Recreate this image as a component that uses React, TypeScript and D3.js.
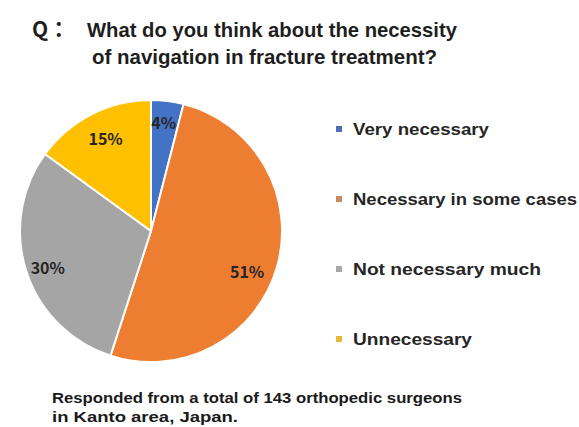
import React from "react";
import * as d3 from "d3";

const categories = ["Very necessary", "Necessary in some cases", "Not necessary much", "Unnecessary"];
const values = [4, 51, 30, 15];
const colors = ["#4472C4", "#ED7D31", "#A5A5A5", "#FFC000"];
const legendColors = ["#4A6FB5", "#C98A62", "#A8A8A8", "#E8B83A"];
const titleLines = ["What do you think about the necessity", "of navigation in fracture treatment?"];
const footerLines = ["Responded from a total of 143 orthopedic surgeons", "in Kanto area, Japan."];

const W = 579;
const H = 427;
const FONT = "'Liberation Sans', Arial, sans-serif";
const LABEL_FONT = "'Noto Sans CJK JP', 'Noto Sans', sans-serif";

export default function App() {
  const cx = 151, cy = 231, r = 131;
  const pie = d3.pie<number>().sort(null).value((d) => d);
  const arcs = pie(values);
  const arc = d3.arc<d3.PieArcDatum<number>>().innerRadius(0).outerRadius(r);
  const labelArc = d3.arc<d3.PieArcDatum<number>>().innerRadius(r * 0.78).outerRadius(r * 0.78);
  const labelOffsets = [
    [0, -8],
    [-2, 11],
    [-6, 4],
    [1, -2],
  ];
  const legendY = d3.scalePoint<string>().domain(categories).range([129, 339]);
  const legendWidths = [136, 224, 188, 119];

  return (
    <div style={{ position: "fixed", left: 0, top: 0, width: W, height: H, background: "#fff", overflow: "hidden" }}>
      <svg width={W} height={H} style={{ display: "block" }} fontFamily={FONT}>
        <rect width={W} height={H} fill="#fff" />
        <text x={32} y={37} fontSize={21} fontWeight={700} fill="#1e1e1e" fontFamily={LABEL_FONT}>Q：</text>
        <text x={87} y={37} fontSize={21} fontWeight={700} fill="#1e1e1e" textLength={370} lengthAdjust="spacingAndGlyphs">{titleLines[0]}</text>
        <text x={92} y={64} fontSize={21} fontWeight={700} fill="#1e1e1e" textLength={345} lengthAdjust="spacingAndGlyphs">{titleLines[1]}</text>
        <g transform={`translate(${cx},${cy})`}>
          {arcs.map((a, i) => (
            <path key={i} d={arc(a) || ""} fill={colors[i]} stroke="#fff" strokeWidth={2} />
          ))}
          {arcs.map((a, i) => {
            const [x, y] = labelArc.centroid(a);
            return (
              <text key={"l" + i} x={x + labelOffsets[i][0]} y={y + labelOffsets[i][1]} textAnchor="middle" dominantBaseline="central" fontFamily={LABEL_FONT} fontSize={16} fontWeight={700} fill="#262626">
                {values[i]}%
              </text>
            );
          })}
        </g>
        {categories.map((c, i) => (
          <g key={c}>
            <rect x={336} y={(legendY(c) as number) - 3} width={6} height={6} fill={legendColors[i]} />
            <text x={353} y={(legendY(c) as number) + 6} fontSize={16} fontWeight={700} fill="#262626" textLength={legendWidths[i]} lengthAdjust="spacingAndGlyphs">{c}</text>
          </g>
        ))}
        <text x={52} y={403} fontSize={15.5} fontWeight={700} fill="#1a1a1a" textLength={410} lengthAdjust="spacingAndGlyphs">{footerLines[0]}</text>
        <text x={52} y={422} fontSize={15.5} fontWeight={700} fill="#1a1a1a" textLength={186} lengthAdjust="spacingAndGlyphs">{footerLines[1]}</text>
      </svg>
    </div>
  );
}
